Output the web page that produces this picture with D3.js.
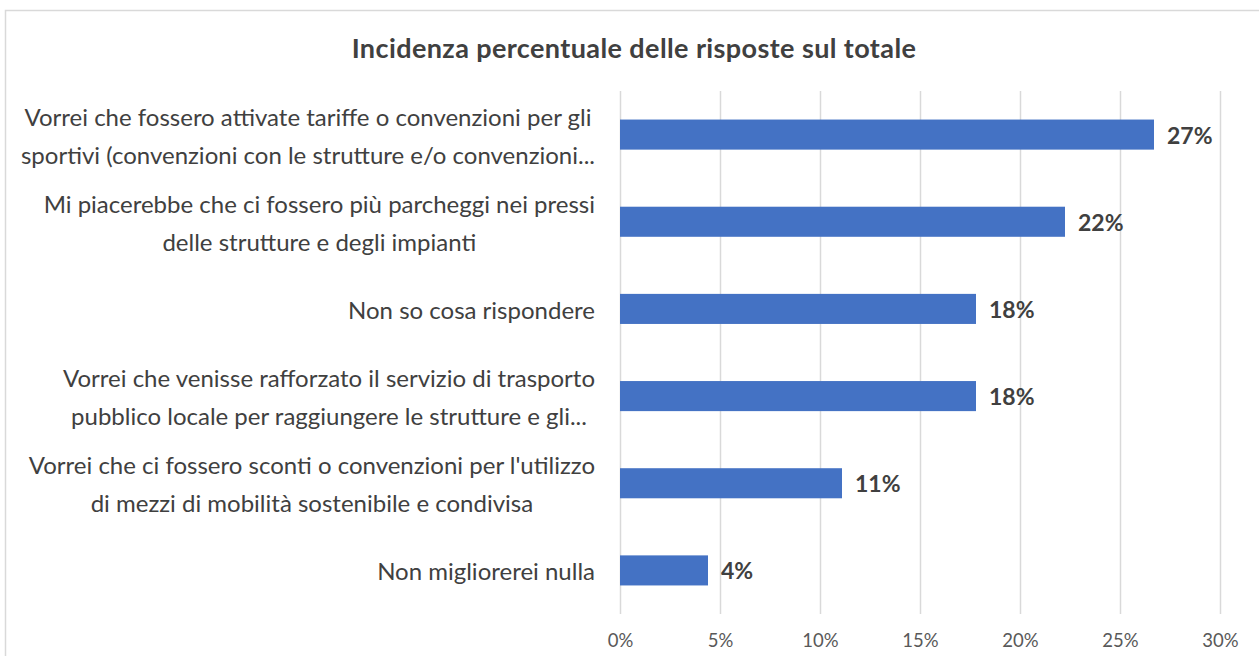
<!DOCTYPE html>
<html>
<head>
<meta charset="utf-8">
<script src="https://cdn.jsdelivr.net/npm/d3@7"></script>
<style>
  html, body { margin: 0; padding: 0; background: #fff; }
  svg { display: block; }
</style>
</head>
<body>
<svg id="chart" width="1259" height="656"></svg>
<script>
const title = "Incidenza percentuale delle risposte sul totale";
const categories = [
  ["Vorrei che fossero attivate tariffe o convenzioni per gli", "sportivi (convenzioni con le strutture e/o convenzioni..."],
  ["Mi piacerebbe che ci fossero più parcheggi nei pressi", "delle strutture e degli impianti"],
  ["Non so cosa rispondere"],
  ["Vorrei che venisse rafforzato il servizio di trasporto", "pubblico locale per raggiungere le strutture e gli..."],
  ["Vorrei che ci fossero sconti o convenzioni per l'utilizzo", "di mezzi di mobilità sostenibile e condivisa"],
  ["Non migliorerei nulla"]
];
const values = [26.7, 22.25, 17.8, 17.8, 11.1, 4.4];
const valueLabels = ["27%", "22%", "18%", "18%", "11%", "4%"];
const tickValues = [0, 5, 10, 15, 20, 25, 30];

const svg = d3.select("#chart");
const font = "Lato, 'Open Sans', sans-serif";

svg.append("rect")
  .attr("x", 5.5).attr("y", 10.5).attr("width", 1270).attr("height", 700)
  .attr("fill", "#fff").attr("stroke", "#d9d9d9").attr("stroke-width", 1.5);

svg.append("text")
  .attr("x", 634).attr("y", 47)
  .attr("text-anchor", "middle").attr("dominant-baseline", "central")
  .attr("font-family", font).attr("font-weight", "bold").attr("font-size", 27)
  .attr("letter-spacing", 0.4)
  .attr("fill", "#404040")
  .text(title);

const x = d3.scaleLinear().domain([0, 30]).range([620, 1220]);
const y = d3.scaleBand().domain(d3.range(categories.length)).range([91, 614]).paddingInner(0.655).paddingOuter(0.3275);

// gridlines
svg.append("g").selectAll("line").data(tickValues).join("line")
  .attr("x1", d => x(d) + 0.5).attr("x2", d => x(d) + 0.5)
  .attr("y1", 91).attr("y2", 614)
  .attr("stroke", "#d9d9d9").attr("stroke-width", 1.5);

// x axis tick labels
const xAxis = d3.axisBottom(x).tickValues(tickValues).tickFormat(d => d + "%").tickSize(0).tickPadding(0);
const ax = svg.append("g").attr("transform", "translate(0,640)").call(xAxis);
ax.select(".domain").remove();
ax.selectAll("text").attr("dy", null).attr("dominant-baseline", "central")
  .attr("font-family", font).attr("font-size", 18.5).attr("fill", "#595959");

// bars
svg.append("g").selectAll("rect").data(values).join("rect")
  .attr("x", x(0)).attr("y", (d, i) => y(i))
  .attr("width", d => x(d) - x(0)).attr("height", y.bandwidth())
  .attr("fill", "#4472C4");

// value labels
svg.append("g").selectAll("text").data(values).join("text")
  .attr("x", d => x(d) + 13).attr("y", (d, i) => y(i) + y.bandwidth() / 2)
  .attr("dominant-baseline", "central")
  .attr("font-family", font).attr("font-weight", "bold").attr("font-size", 23)
  .attr("fill", "#404040")
  .text((d, i) => valueLabels[i]);

// category labels: block right-aligned at 595, lines centered within block
const lineH = 38;
const catG = svg.append("g");
categories.forEach((lines, i) => {
  const cy = y(i) + y.bandwidth() / 2;
  const t = catG.append("text")
    .attr("font-family", font).attr("font-size", 24).attr("fill", "#404040")
    .attr("text-anchor", "middle").attr("dominant-baseline", "central");
  const spans = lines.map((ln, k) => t.append("tspan")
    .attr("y", cy + (k - (lines.length - 1) / 2) * lineH).text(ln));
  const maxW = d3.max(spans, s => s.node().getComputedTextLength());
  spans.forEach(s => s.attr("x", 595 - maxW / 2));
});
</script>
</body>
</html>
